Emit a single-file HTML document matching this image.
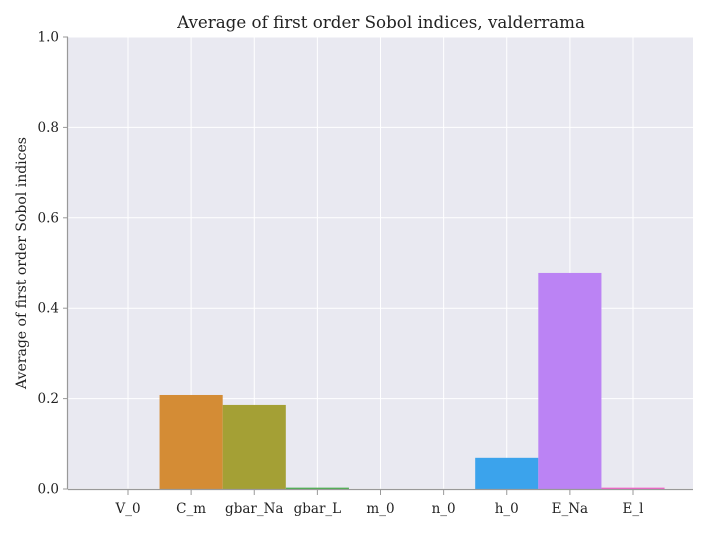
<!DOCTYPE html>
<html><head><meta charset="utf-8"><style>
body{margin:0;background:#fff;}
svg text{font-family:"DejaVu Serif","Liberation Serif",serif;fill:#222;}
</style></head><body>
<svg id="c" width="708" height="531">
<text x="381" y="28" text-anchor="middle" font-size="16.7">Average of first order Sobol indices, valderrama</text>
<text transform="translate(26,263) rotate(-90)" text-anchor="middle" font-size="14">Average of first order Sobol indices</text>
</svg>
<script>
const categories=["V_0","C_m","gbar_Na","gbar_L","m_0","n_0","h_0","E_Na","E_l"];
const values=[0,0.208,0.186,0.003,0,0,0.069,0.478,0.003];
const colors=["#e8766b","#d48c35","#a4a035","#4caf50","#44b38a","#3bb2b5","#3ba3ec","#bb83f4","#f065c8"];
const yTicks=[0,0.2,0.4,0.6,0.8,1.0];
const NS="http://www.w3.org/2000/svg";
const svg=document.getElementById('c');
const L=68,R=693,T=37,B=489;
const X0=128,X1=633;
const step=(X1-X0)/(categories.length-1);
const x=i=>X0+step*i;
const y=v=>B-(B-T)*v;
function mk(t,a){const e=document.createElementNS(NS,t);for(const k in a)e.setAttribute(k,a[k]);svg.appendChild(e);return e;}
const bg=mk('rect',{x:L,y:T,width:R-L,height:B-T,fill:'#e9e9f1'});


yTicks.forEach(v=>{
 const g=mk('line',{x1:L,x2:R,y1:y(v),y2:y(v),stroke:'#fff','stroke-width':1});
 
 
 const tk=mk('line',{x1:L-5,x2:L,y1:y(v),y2:y(v),stroke:'#999'});
 
 
 const t=mk('text',{x:L-9,y:y(v)+4.5,'text-anchor':'end','font-size':13.5});
 t.textContent=v.toFixed(1);
 
 
});
categories.forEach((c,i)=>{
 const g=mk('line',{x1:x(i),x2:x(i),y1:T,y2:B,stroke:'#fff','stroke-width':1});
 
 
});
categories.forEach((c,i)=>{
 const h=Math.max(1,y(0)-y(values[i]));
 const r=mk('rect',{x:x(i)-step/2,y:y(0)-(values[i]>0?h:0),width:step,height:values[i]>0?h:0,fill:colors[i]});
 
 
 const tk=mk('line',{x1:x(i),x2:x(i),y1:B,y2:B+6,stroke:'#999'});
 
 
 const t=mk('text',{x:x(i),y:B+24,'text-anchor':'middle','font-size':13.5});
 t.textContent=c;
 
 
});
const ax=mk('line',{x1:L,x2:R,y1:B+0.5,y2:B+0.5,stroke:'#999','stroke-width':1.2});


const ay=mk('line',{x1:L-0.5,x2:L-0.5,y1:T,y2:B,stroke:'#999','stroke-width':1.2});


</script>
</body></html>
